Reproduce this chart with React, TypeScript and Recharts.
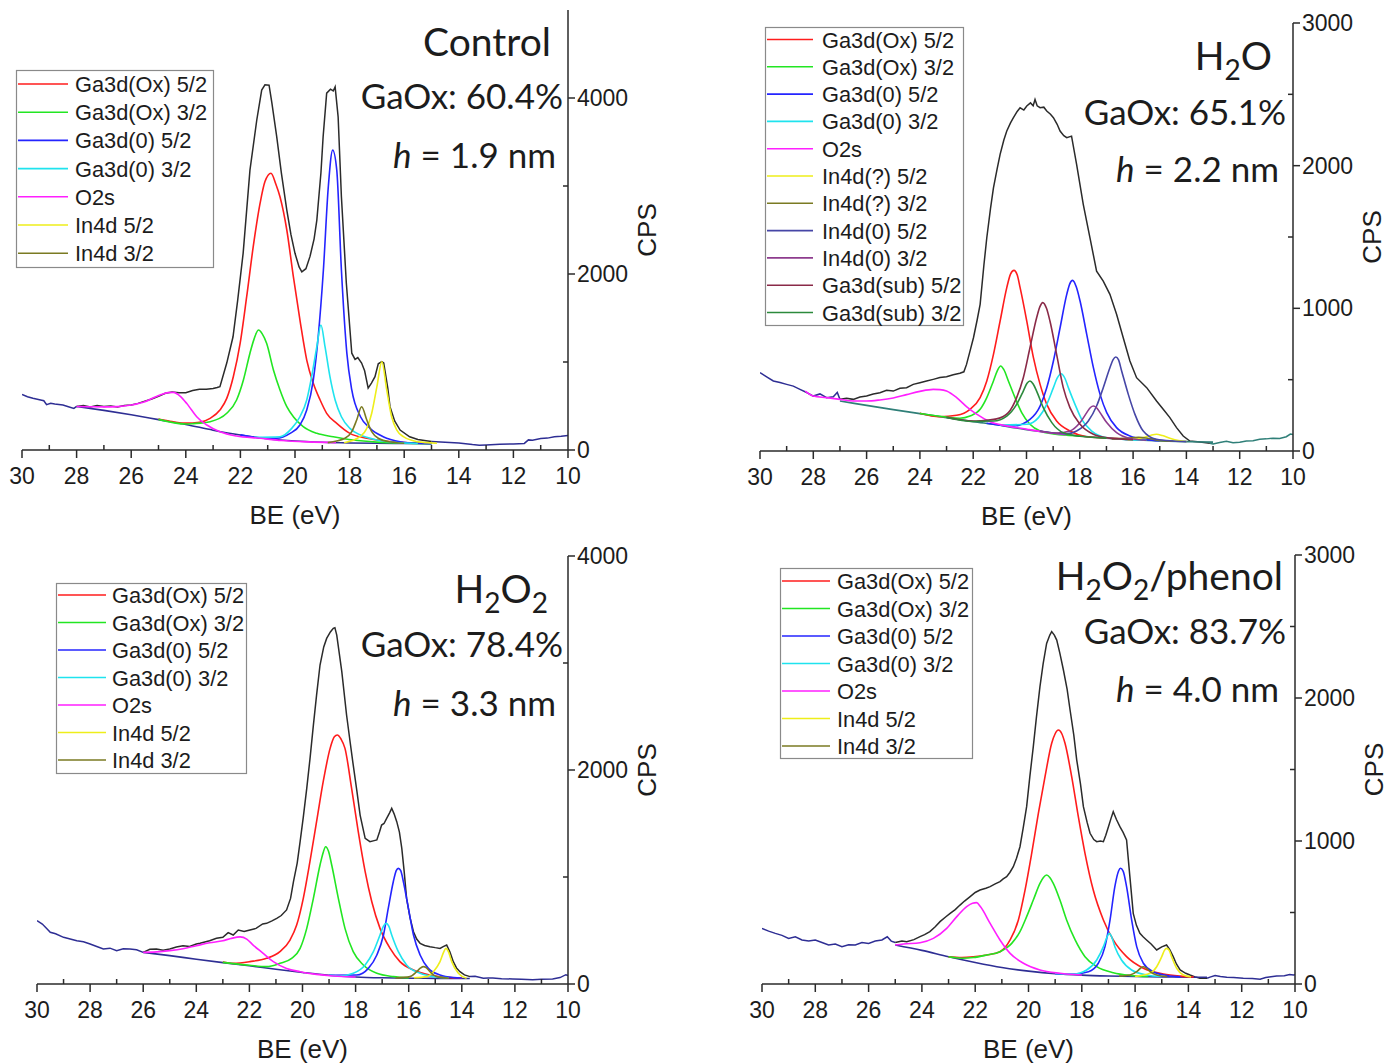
import React from "react";
import { LineChart, Line, XAxis, YAxis } from "recharts";

type Pt = [number, number];

const INK = "#1c1c1c";
const AXIS = "#2a2a2a";
const SANS = "'Liberation Sans', Arial, sans-serif";
const CAL = "Lato, Carlito, sans-serif";

// component colours
const RED = "#ff1c1c";
const GREEN = "#22e622";
const BLUE = "#2424ff";
const CYAN = "#1fe3ee";
const MAGENTA = "#ff1fff";
const YELLOW = "#eeee1a";
const OLIVE = "#7a7a22";
const SLATE = "#4646a6";
const PURPLE = "#8e3c8e";
const MAROON = "#8a2a48";
const DKGREEN = "#2c8a3c";
const NAVY = "#2e2e94";
const TEAL = "#2f7f78";
const SPEC = "#2b2b2b";

const beTicks = [30, 29, 28, 27, 26, 25, 24, 23, 22, 21, 20, 19, 18, 17, 16, 15, 14, 13, 12, 11, 10];

const stdNames = ["Ga3d(Ox) 5/2", "Ga3d(Ox) 3/2", "Ga3d(0) 5/2", "Ga3d(0) 3/2", "O2s", "In4d 5/2", "In4d 3/2"];
const stdColors = [RED, GREEN, BLUE, CYAN, MAGENTA, YELLOW, OLIVE];
const h2oNames = [
  "Ga3d(Ox) 5/2", "Ga3d(Ox) 3/2", "Ga3d(0) 5/2", "Ga3d(0) 3/2", "O2s",
  "In4d(?) 5/2", "In4d(?) 3/2", "In4d(0) 5/2", "In4d(0) 3/2", "Ga3d(sub) 5/2", "Ga3d(sub) 3/2",
];
const h2oColors = [RED, GREEN, BLUE, CYAN, MAGENTA, YELLOW, OLIVE, SLATE, PURPLE, MAROON, DKGREEN];

// ---------- Control ----------
const ctrlSpecL: Pt[] = [[30, 632], [29.8, 605], [29.6, 587], [29.4, 575], [29.2, 560], [29.1, 515], [28.95, 530], [28.8, 522], [28.5, 511], [28.3, 492], [28.1, 473], [28, 495]];
const ctrlSpec: Pt[] = [
  [28, 495], [27.75, 505], [27.5, 490], [27.25, 505], [27, 495], [26.75, 500], [26.5, 490], [26.25, 505], [26, 511],
  [25.75, 530], [25.5, 555], [25.25, 580], [25, 610], [24.75, 645], [24.5, 660], [24.25, 650], [24, 650], [23.75, 675],
  [23.5, 690], [23.25, 690], [23, 700], [22.85, 710], [22.75, 720], [22.5, 988], [22.27, 1287], [22.1, 1700], [21.9, 2235],
  [21.65, 3180], [21.4, 3750], [21.22, 4090], [21.1, 4150], [20.95, 4145], [20.85, 3950], [20.67, 3560], [20.5, 3150],
  [20.3, 2727], [20.15, 2450], [20, 2235], [19.85, 2080], [19.75, 2025], [19.6, 2060], [19.45, 2200], [19.3, 2400],
  [19.2, 2613], [19.05, 3150], [18.97, 3560], [18.84, 4055], [18.7, 4100], [18.6, 4080], [18.53, 4127], [18.42, 3786],
  [18.3, 2877], [18.12, 1897], [17.92, 1100], [17.8, 1030], [17.7, 1050], [17.56, 988], [17.45, 900], [17.32, 704],
  [17.2, 760], [17.07, 833], [16.95, 980], [16.82, 1003], [16.75, 990], [16.6, 700], [16.52, 492], [16.35, 330],
  [16.15, 227], [15.8, 150], [15.5, 120], [15.2, 105], [15, 96],
];
const ctrlSpecR: Pt[] = [[15, 96], [14.5, 88], [14, 80], [13.5, 62], [13.25, 55], [13, 58], [12.5, 65], [12, 68], [11.6, 75], [11.45, 115], [11.3, 110], [11, 130], [10.75, 135], [10.5, 150], [10.25, 155], [10, 165]];
const ctrlBg: Pt[] = [[28, 495], [27, 450], [26, 400], [25, 345], [24, 290], [23, 225], [22, 170], [21, 128], [20, 102], [19, 88], [18, 80], [17, 76], [16, 74], [15, 72]];
const ctrlOx52: Pt[] = [[25, 352], [24.5, 322], [24, 305], [23.5, 315], [23.11, 360], [22.75, 454], [22.5, 587], [22.26, 833], [22.01, 1212], [21.77, 1742], [21.53, 2310], [21.28, 2802], [21.1, 3050], [20.88, 3145], [20.7, 3020], [20.55, 2877], [20.3, 2500], [20.06, 1969], [19.8, 1439], [19.57, 1022], [19.33, 758], [19.08, 568], [18.84, 417], [18.47, 303], [17.99, 189], [17.37, 133], [16.8, 105], [16, 86], [15, 76]];
const ctrlOx32: Pt[] = [[25, 348], [24, 295], [23.72, 300], [23.11, 322], [22.5, 417], [22.14, 568], [21.89, 795], [21.65, 1100], [21.5, 1260], [21.34, 1363], [21.2, 1320], [21.04, 1212], [20.79, 909], [20.55, 682], [20.3, 492], [20.06, 378], [19.7, 265], [19.2, 189], [18.6, 151], [17.87, 114], [17, 90], [16, 78], [15, 73]];
const ctrlM52: Pt[] = [[22, 172], [21, 132], [20.67, 133], [20.18, 189], [19.82, 284], [19.57, 454], [19.33, 795], [19.15, 1287], [18.96, 2045], [18.78, 2991], [18.62, 3408], [18.47, 3180], [18.3, 2045], [18.1, 1098], [17.92, 682], [17.6, 378], [17.25, 246], [16.77, 151], [16.15, 94], [15.5, 76], [15, 73]];
const ctrlM32: Pt[] = [[21.5, 145], [20.55, 151], [20.12, 246], [19.82, 378], [19.57, 568], [19.39, 833], [19.2, 1174], [19.05, 1420], [18.9, 1174], [18.72, 833], [18.53, 568], [18.3, 378], [17.99, 246], [17.6, 170], [17, 114], [16.3, 85], [15.5, 74]];
const ctrlO2s: Pt[] = [[28, 495], [27.5, 492], [27, 490], [26.5, 493], [26, 511], [25.5, 548], [25.2, 590], [24.9, 630], [24.65, 652], [24.46, 655], [24.2, 610], [23.97, 530], [23.8, 460], [23.6, 378], [23.23, 284], [22.75, 208], [22.14, 159], [21.28, 133], [20.5, 108], [19.5, 92], [18.5, 84]];
const ctrlIn52: Pt[] = [[18.2, 82], [17.62, 151], [17.37, 246], [17.19, 417], [17, 720], [16.82, 1003], [16.64, 682], [16.46, 378], [16.27, 227], [16.03, 151], [15.67, 105], [15.2, 84], [14.8, 76]];
const ctrlIn32: Pt[] = [[18.8, 84], [18.17, 133], [17.92, 208], [17.74, 341], [17.56, 492], [17.37, 341], [17.19, 208], [16.95, 133], [16.5, 90], [16, 77]];

// ---------- H2O ----------
const h2oSpecL: Pt[] = [[30, 549], [29.75, 520], [29.5, 491], [29.25, 480], [29, 467], [28.75, 455], [28.5, 432], [28.25, 410], [28, 385], [27.75, 400], [27.5, 374], [27.25, 380], [27.1, 410], [27, 362]];
const h2oSpec: Pt[] = [
  [27, 362], [26.75, 370], [26.5, 362], [26.25, 378], [26, 385], [25.75, 400], [25.5, 409], [25.25, 425], [25, 420],
  [24.75, 440], [24.5, 444], [24.25, 467], [24, 479], [23.75, 490], [23.5, 502], [23.25, 515], [23, 520], [22.75, 535],
  [22.5, 545], [22.35, 555], [22.25, 607], [22.12, 700], [21.99, 794], [21.85, 920], [21.74, 1028], [21.6, 1300],
  [21.49, 1495], [21.35, 1700], [21.24, 1845], [21.1, 1980], [20.99, 2079], [20.85, 2180], [20.74, 2243], [20.6, 2300],
  [20.49, 2336], [20.35, 2380], [20.24, 2406], [20.1, 2390], [19.99, 2418], [19.85, 2440], [19.75, 2420], [19.68, 2464],
  [19.6, 2420], [19.49, 2406], [19.35, 2410], [19.24, 2383], [19.1, 2360], [18.99, 2336], [18.85, 2290], [18.74, 2243],
  [18.6, 2210], [18.49, 2196], [18.31, 2207], [18.12, 2009], [17.87, 1729], [17.62, 1495], [17.37, 1261], [17.12, 1191],
  [16.87, 1098], [16.62, 958], [16.37, 794], [16.12, 631], [15.87, 514], [15.49, 444], [15.12, 350], [14.87, 292],
  [14.62, 234], [14.37, 164], [14.12, 105], [13.87, 70], [13.49, 63], [13.12, 55],
];
const h2oSpecR: Pt[] = [[13.12, 55], [13, 50], [12.75, 60], [12.5, 68], [12.25, 58], [12, 62], [11.75, 70], [11.5, 72], [11.25, 83], [11, 85], [10.75, 90], [10.5, 88], [10.25, 100], [10.1, 119], [10, 115]];
const h2oBg: Pt[] = [[27, 350], [26, 320], [25, 290], [24, 262], [23, 234], [22, 206], [21, 180], [20.5, 164], [20, 150], [19, 126], [18, 105], [17, 90], [16, 79], [15, 71], [14, 66], [13, 62]];
const h2oOx52: Pt[] = [[24, 265], [23.25, 240], [22.62, 250], [22.12, 292], [21.74, 374], [21.49, 491], [21.24, 677], [20.99, 911], [20.74, 1145], [20.6, 1240], [20.47, 1266], [20.35, 1235], [20.24, 1145], [19.99, 911], [19.74, 654], [19.49, 467], [19.24, 327], [18.87, 210], [18.37, 140], [17.74, 100], [17, 91], [16, 79]];
const h2oOx32: Pt[] = [[24, 263], [23, 238], [22.5, 230], [22.12, 245], [21.74, 292], [21.49, 374], [21.24, 491], [21.1, 560], [20.97, 596], [20.85, 570], [20.68, 491], [20.43, 374], [20.18, 269], [19.87, 187], [19.49, 140], [18.99, 120], [18.5, 110], [18, 106]];
const h2oM52: Pt[] = [[21.5, 195], [20.49, 175], [19.87, 222], [19.49, 315], [19.24, 444], [18.99, 631], [18.74, 864], [18.49, 1098], [18.38, 1170], [18.27, 1196], [18.13, 1150], [17.99, 1051], [17.74, 818], [17.49, 584], [17.24, 397], [16.99, 269], [16.62, 164], [16.12, 105], [15.5, 80], [15, 72]];
const h2oM32: Pt[] = [[21, 182], [19.99, 187], [19.55, 234], [19.24, 327], [18.99, 444], [18.85, 510], [18.7, 542], [18.56, 510], [18.43, 444], [18.18, 327], [17.93, 222], [17.55, 140], [16.99, 93], [16.2, 80], [15.5, 75]];
const h2oO2s: Pt[] = [[28.3, 420], [28, 385], [27.5, 374], [27, 362], [26.5, 350], [26, 350], [25.5, 358], [25, 372], [24.5, 395], [24, 418], [23.5, 432], [23.25, 430], [23, 420], [22.62, 374], [22.24, 310], [21.87, 258], [21.37, 205], [20.74, 176], [20, 153], [19.2, 130], [18.5, 114]];
const h2oInQ52: Pt[] = [[16.2, 80], [15.8, 86], [15.5, 100], [15.3, 112], [15.12, 117], [14.9, 108], [14.62, 90], [14.3, 74], [14, 67]];
const h2oInQ32: Pt[] = [[16.8, 85], [16.2, 90], [15.8, 96], [15.4, 88], [15, 74], [14.5, 68]];
const h2oIn052: Pt[] = [[19.5, 140], [18.5, 120], [18.12, 140], [17.68, 210], [17.37, 315], [17.12, 444], [16.87, 584], [16.75, 640], [16.65, 659], [16.55, 640], [16.43, 561], [16.18, 397], [15.93, 257], [15.62, 140], [15.12, 82], [14.5, 70], [14, 66]];
const h2oIn032: Pt[] = [[19.5, 138], [18.87, 125], [18.37, 140], [17.99, 199], [17.74, 269], [17.6, 305], [17.49, 315], [17.38, 305], [17.24, 269], [16.99, 199], [16.62, 128], [16.12, 88], [15.5, 75]];
const h2oSub52: Pt[] = [[23, 236], [22, 210], [21.74, 212], [21.12, 225], [20.68, 269], [20.37, 374], [20.12, 514], [19.87, 724], [19.62, 934], [19.5, 1010], [19.39, 1040], [19.25, 1000], [19.12, 911], [18.87, 677], [18.62, 444], [18.37, 304], [17.99, 187], [17.49, 117], [16.87, 90], [16, 80]];
const h2oSub32: Pt[] = [[23, 235], [22, 207], [21.24, 210], [20.74, 245], [20.37, 327], [20.12, 420], [19.98, 475], [19.87, 491], [19.75, 470], [19.62, 420], [19.37, 304], [19.05, 199], [18.62, 128], [17.99, 103], [17, 90]];

// ---------- H2O2 ----------
const hpSpecL: Pt[] = [[30, 592], [29.8, 560], [29.6, 510], [29.5, 483], [29.3, 470], [29, 436], [28.75, 420], [28.5, 405], [28.25, 395], [28, 374], [27.75, 350], [27.5, 327], [27.25, 335], [27, 312], [26.75, 330], [26.5, 327], [26.25, 320], [26, 296]];
const hpSpec: Pt[] = [
  [26, 296], [25.75, 325], [25.5, 327], [25.25, 315], [25, 327], [24.75, 345], [24.5, 358], [24.25, 350], [24, 374],
  [23.86, 380], [23.5, 405], [23.24, 427], [23, 436], [22.8, 480], [22.61, 458], [22.42, 505], [22.2, 490], [21.98, 505],
  [21.75, 520], [21.5, 561], [21.35, 567], [21.15, 590], [20.97, 614], [20.8, 640], [20.6, 692], [20.45, 800], [20.34, 956],
  [20.2, 1130], [20.09, 1330], [19.97, 1560], [19.84, 1829], [19.72, 2100], [19.59, 2420], [19.47, 2700], [19.34, 2981],
  [19.2, 3150], [19.09, 3230], [18.95, 3290], [18.84, 3324], [18.78, 3330], [18.71, 3261], [18.62, 3100], [18.52, 2919],
  [18.34, 2514], [18.2, 2250], [18.09, 2047], [17.95, 1800], [17.83, 1579], [17.64, 1361], [17.46, 1330], [17.3, 1340],
  [17.2, 1346], [17.1, 1420], [17.02, 1486], [16.93, 1500], [16.83, 1548], [16.72, 1600], [16.64, 1642], [16.55, 1590],
  [16.45, 1517], [16.35, 1420], [16.26, 1268], [16.17, 1050], [16.08, 800], [15.95, 620], [15.82, 489], [15.7, 420],
  [15.57, 380], [15.4, 360], [15.2, 349], [15, 340], [14.82, 333], [14.7, 350], [14.57, 364], [14.45, 300], [14.32, 209],
  [14.2, 150], [14.07, 115], [13.9, 85], [13.69, 69],
];
const hpSpecR: Pt[] = [[13.69, 69], [13.5, 72], [13.19, 53], [13, 55], [12.83, 56], [12.5, 50], [12.08, 47], [11.75, 45], [11.33, 40], [11, 45], [10.58, 47], [10.3, 60], [10.08, 87], [10, 80]];
const hpBg: Pt[] = [[26, 296], [25, 265], [24, 232], [23, 200], [22, 170], [21, 138], [20, 108], [19, 82], [18, 66], [17, 58], [16, 54], [15, 53], [14, 52], [13.7, 52]];
const hpOx52: Pt[] = [[23, 205], [22.61, 193], [21.98, 209], [21.35, 240], [20.85, 302], [20.47, 411], [20.22, 551], [19.97, 801], [19.72, 1143], [19.47, 1517], [19.22, 1891], [18.96, 2202], [18.8, 2310], [18.69, 2327], [18.55, 2290], [18.4, 2202], [18.15, 1829], [17.9, 1424], [17.64, 1050], [17.39, 769], [17.08, 520], [16.7, 333], [16.33, 209], [15.82, 131], [15.2, 84], [14.5, 62], [14, 55]];
const hpOx32: Pt[] = [[23, 202], [22, 175], [21.35, 162], [20.85, 193], [20.41, 240], [20.09, 333], [19.84, 520], [19.59, 801], [19.34, 1112], [19.22, 1230], [19.13, 1283], [19.02, 1240], [18.9, 1112], [18.65, 801], [18.4, 520], [18.09, 302], [17.71, 178], [17.2, 100], [16.58, 69], [16, 57]];
const hpM52: Pt[] = [[19, 82], [17.96, 84], [17.52, 146], [17.2, 271], [16.95, 458], [16.77, 707], [16.58, 956], [16.47, 1060], [16.39, 1081], [16.3, 1060], [16.2, 956], [16.01, 707], [15.82, 458], [15.57, 271], [15.26, 146], [14.82, 84], [14.3, 60], [14, 56]];
const hpM32: Pt[] = [[19, 82], [18.59, 75], [18.09, 100], [17.64, 178], [17.33, 302], [17.08, 458], [16.95, 540], [16.85, 567], [16.75, 540], [16.64, 458], [16.39, 302], [16.08, 178], [15.57, 100], [15.07, 69], [14.5, 58]];
const hpO2s: Pt[] = [[26, 296], [25.5, 300], [25, 312], [24.5, 330], [24, 358], [23.5, 385], [23, 405], [22.7, 425], [22.35, 440], [22.1, 420], [21.86, 364], [21.48, 287], [21.1, 209], [20.6, 146], [20.09, 115], [19.47, 90], [18.84, 75], [18, 66]];
const hpIn52: Pt[] = [[15.8, 58], [15.32, 69], [15.07, 115], [14.82, 209], [14.68, 300], [14.6, 333], [14.5, 300], [14.38, 209], [14.13, 100], [13.82, 53]];
const hpIn32: Pt[] = [[16.5, 56], [15.95, 69], [15.7, 115], [15.55, 150], [15.45, 162], [15.33, 150], [15.2, 115], [14.95, 69], [14.5, 55]];

// ---------- H2O2/phenol ----------
const phSpecL: Pt[] = [[30, 389], [29.75, 370], [29.5, 354], [29.25, 340], [29, 319], [28.75, 330], [28.5, 308], [28.25, 300], [28, 308], [27.75, 290], [27.5, 273], [27.25, 280], [27, 261], [26.75, 275], [26.5, 273], [26.25, 290], [26, 284], [25.75, 300], [25.5, 308], [25.3, 330], [25.15, 300], [25, 290]];
const phSpec: Pt[] = [
  [25, 290], [24.75, 300], [24.57, 296], [24.3, 310], [24.07, 331], [23.9, 345], [23.7, 366], [23.5, 400], [23.32, 436],
  [23.1, 470], [22.94, 494], [22.75, 520], [22.57, 552], [22.4, 580], [22.19, 611], [22, 640], [21.82, 657], [21.6, 670],
  [21.44, 681], [21.25, 700], [21.07, 716], [20.95, 735], [20.82, 751], [20.7, 780], [20.57, 820], [20.45, 880], [20.32, 960],
  [20.2, 1090], [20.07, 1240], [19.95, 1450], [19.82, 1660], [19.7, 1870], [19.57, 2079], [19.45, 2240], [19.32, 2382],
  [19.2, 2440], [19.13, 2464], [19.03, 2440], [18.94, 2405], [18.82, 2310], [18.69, 2196], [18.55, 2060], [18.44, 1916],
  [18.3, 1740], [18.19, 1566], [18.05, 1400], [17.94, 1240], [17.8, 1130], [17.69, 1054], [17.55, 1010], [17.44, 995],
  [17.3, 1000], [17.19, 995], [17.1, 1040], [17, 1100], [16.9, 1160], [16.82, 1205], [16.7, 1150], [16.57, 1100],
  [16.45, 1060], [16.32, 1007], [16.2, 760], [16.07, 494], [15.95, 410], [15.82, 354], [15.7, 330], [15.57, 308],
  [15.4, 280], [15.19, 238], [15, 260], [14.82, 273], [14.7, 240], [14.57, 191], [14.45, 140], [14.31, 98], [14.1, 75],
  [13.94, 63], [13.75, 50], [13.57, 40], [13.3, 40],
];
const phSpecR: Pt[] = [[13.3, 40], [13.19, 48], [13, 60], [12.8, 52], [12.56, 47], [12.3, 45], [11.94, 40], [11.6, 38], [11.31, 33], [11.1, 45], [10.9, 50], [10.69, 56], [10.4, 58], [10.2, 66], [10.06, 63], [10, 65]];
const phBg: Pt[] = [[25, 273], [24, 235], [23, 190], [22, 150], [21, 115], [20, 90], [19, 72], [18, 62], [17, 56], [16, 52], [15, 50], [14, 48], [13.3, 47]];
const phOx52: Pt[] = [[23, 190], [22.5, 185], [22.07, 190], [21.57, 203], [21.07, 226], [20.69, 308], [20.38, 448], [20.13, 657], [19.88, 914], [19.63, 1193], [19.38, 1450], [19.13, 1683], [19, 1750], [18.88, 1776], [18.75, 1750], [18.63, 1683], [18.38, 1450], [18.13, 1170], [17.88, 914], [17.57, 657], [17.19, 448], [16.82, 308], [16.32, 191], [15.69, 110], [14.94, 70], [14.3, 55], [13.8, 49]];
const phOx32: Pt[] = [[23, 190], [22.5, 180], [22.07, 185], [21.57, 203], [21.07, 226], [20.63, 284], [20.32, 366], [20.07, 471], [19.82, 587], [19.57, 704], [19.44, 745], [19.32, 762], [19.2, 745], [19.07, 704], [18.82, 587], [18.57, 448], [18.25, 308], [17.88, 191], [17.44, 121], [16.82, 79], [16.2, 60], [15.5, 52]];
const phM52: Pt[] = [[19, 72], [18.32, 70], [17.75, 86], [17.38, 145], [17.13, 261], [16.94, 448], [16.76, 681], [16.62, 790], [16.55, 809], [16.45, 790], [16.32, 681], [16.13, 448], [15.94, 261], [15.69, 145], [15.32, 86], [14.8, 60], [14.3, 50]];
const phM32: Pt[] = [[19, 73], [18.32, 70], [17.82, 98], [17.44, 168], [17.19, 261], [17.05, 330], [16.97, 354], [16.88, 330], [16.76, 261], [16.51, 168], [16.13, 98], [15.57, 63], [15, 52]];
const phO2s: Pt[] = [[25, 273], [24.69, 280], [24.07, 289], [23.57, 319], [23.07, 389], [22.69, 471], [22.32, 541], [22.1, 565], [21.95, 569], [21.8, 540], [21.44, 424], [21.07, 308], [20.69, 214], [20.19, 145], [19.57, 98], [18.82, 75], [18, 63]];
const phIn52: Pt[] = [[16, 53], [15.44, 75], [15.19, 121], [15, 191], [14.9, 235], [14.82, 249], [14.72, 235], [14.63, 191], [14.44, 110], [14.19, 63], [13.9, 50]];
const phIn32: Pt[] = [[16.6, 55], [16.19, 63], [15.94, 86], [15.8, 110], [15.69, 121], [15.57, 110], [15.44, 86], [15.19, 63], [14.8, 52]];

interface Trace {
  pts: Pt[];
  color: string;
  width: number;
  smooth: boolean;
}

interface LegendBox {
  x: number;
  y: number;
  w: number;
  h: number;
  row0: number;
  step: number;
  line0: number;
  line1: number;
  textX: number;
  names: string[];
  colors: string[];
}

interface PanelDef {
  left: number;
  right: number;
  top: number;
  bottom: number;
  yMax: number;
  yTicks: number[];
  yMajor: number;
  traces: Trace[];
  legend: LegendBox;
}

const raw = (pts: Pt[], color: string): Trace => ({ pts, color, width: 1.5, smooth: false });
const fit = (pts: Pt[], color: string): Trace => ({ pts, color, width: 1.6, smooth: true });

function buildTraces(edgeL: Pt[], spec: Pt[], edgeR: Pt[], edgeColor: string, bg: Pt[], bgColor: string, comps: Pt[][], colors: string[]): Trace[] {
  return [
    raw(edgeL, NAVY),
    raw(edgeR, edgeColor),
    raw(spec, SPEC),
    fit(bg, bgColor),
    ...comps.map((c, i) => fit(c, colors[i])),
  ];
}

const panels: PanelDef[] = [
  {
    left: 22, right: 568, top: 10, bottom: 450, yMax: 5000, yTicks: [0, 1000, 2000, 3000, 4000], yMajor: 2000,
    traces: buildTraces(ctrlSpecL, ctrlSpec, ctrlSpecR, NAVY, ctrlBg, NAVY,
      [ctrlOx52, ctrlOx32, ctrlM52, ctrlM32, ctrlO2s, ctrlIn52, ctrlIn32], stdColors),
    legend: { x: 16, y: 70, w: 197, h: 197, row0: 84, step: 28.2, line0: 18, line1: 68, textX: 75, names: stdNames, colors: stdColors },
  },
  {
    left: 760, right: 1293, top: 23, bottom: 451, yMax: 3000, yTicks: [0, 500, 1000, 1500, 2000, 2500, 3000], yMajor: 1000,
    traces: buildTraces(h2oSpecL, h2oSpec, h2oSpecR, TEAL, h2oBg, TEAL,
      [h2oOx52, h2oOx32, h2oM52, h2oM32, h2oO2s, h2oInQ52, h2oInQ32, h2oIn052, h2oIn032, h2oSub52, h2oSub32], h2oColors),
    legend: { x: 765, y: 27, w: 198, h: 298, row0: 39.5, step: 27.3, line0: 767, line1: 813, textX: 822, names: h2oNames, colors: h2oColors },
  },
  {
    left: 37, right: 568, top: 556, bottom: 984, yMax: 4000, yTicks: [0, 1000, 2000, 3000, 4000], yMajor: 2000,
    traces: buildTraces(hpSpecL, hpSpec, hpSpecR, NAVY, hpBg, NAVY,
      [hpOx52, hpOx32, hpM52, hpM32, hpO2s, hpIn52, hpIn32], stdColors),
    legend: { x: 56, y: 583, w: 190, h: 190, row0: 595, step: 27.5, line0: 58, line1: 106, textX: 112, names: stdNames, colors: stdColors },
  },
  {
    left: 762, right: 1295, top: 555, bottom: 984, yMax: 3000, yTicks: [0, 500, 1000, 1500, 2000, 2500, 3000], yMajor: 1000,
    traces: buildTraces(phSpecL, phSpec, phSpecR, NAVY, phBg, NAVY,
      [phOx52, phOx32, phM52, phM32, phO2s, phIn52, phIn32], stdColors),
    legend: { x: 780, y: 568, w: 192, h: 190, row0: 581, step: 27.5, line0: 782, line1: 830, textX: 837, names: stdNames, colors: stdColors },
  },
];

const PAD_L = 16;
const PAD_T = 12;
const AXIS_W = 80;
const AXIS_H = 44;
const TICK_FS = 23;
const LEGEND_FS = 21.8;

function XTick(props: any) {
  const { x, y, payload } = props;
  const v = payload.value as number;
  const major = v % 2 === 0;
  return (
    <g>
      <line x1={x} x2={x} y1={y} y2={major ? y + 8 : y - 5} stroke={AXIS} strokeWidth={1.5} />
      {major && (
        <text x={x} y={y + 33.5} textAnchor="middle" fontSize={TICK_FS} fontFamily={SANS} fill={INK}>
          {v}
        </text>
      )}
    </g>
  );
}

function makeYTick(majorStep: number) {
  return function YTick(props: any) {
    const { x, y, payload } = props;
    const v = payload.value as number;
    const major = v % majorStep === 0;
    return (
      <g>
        <line x1={x} x2={major ? x + 7 : x - 5} y1={y} y2={y} stroke={AXIS} strokeWidth={1.5} />
        {major && (
          <text x={x + 9} y={y + 8} textAnchor="start" fontSize={TICK_FS} fontFamily={SANS} fill={INK}>
            {v}
          </text>
        )}
      </g>
    );
  };
}

function Panel({ p }: { p: PanelDef }) {
  const w = p.right - p.left + PAD_L + AXIS_W;
  const h = p.bottom - p.top + PAD_T + AXIS_H;
  return (
    <div style={{ position: "absolute", left: p.left - PAD_L, top: p.top - PAD_T }}>
      <LineChart width={w} height={h} margin={{ top: PAD_T, left: PAD_L, right: 0, bottom: 0 }}>
        <XAxis
          type="number"
          dataKey="x"
          domain={[10, 30]}
          reversed
          allowDataOverflow
          ticks={beTicks}
          interval={0}
          height={AXIS_H}
          tickSize={0}
          tickMargin={0}
          tickLine={false}
          axisLine={{ stroke: AXIS, strokeWidth: 1.5 }}
          tick={XTick}
        />
        <YAxis
          orientation="right"
          type="number"
          dataKey="y"
          domain={[0, p.yMax]}
          allowDataOverflow
          ticks={p.yTicks}
          interval={0}
          width={AXIS_W}
          tickSize={0}
          tickMargin={0}
          tickLine={false}
          axisLine={{ stroke: AXIS, strokeWidth: 1.5 }}
          tick={makeYTick(p.yMajor)}
        />
        {p.traces.map((t, i) => (
          <Line
            key={i}
            data={t.pts.map(([x, y]) => ({ x, y }))}
            dataKey="y"
            type={t.smooth ? "monotone" : "linear"}
            stroke={t.color}
            strokeWidth={t.width}
            dot={false}
            activeDot={false}
            isAnimationActive={false}
          />
        ))}
      </LineChart>
    </div>
  );
}

function LegendView({ l }: { l: LegendBox }) {
  return (
    <g>
      <rect x={l.x + 0.5} y={l.y + 0.5} width={l.w} height={l.h} fill="#fff" stroke="#8a8a8a" strokeWidth={1.2} />
      {l.names.map((n, i) => {
        const cy = l.row0 + i * l.step;
        return (
          <g key={n}>
            <line x1={l.line0} x2={l.line1} y1={cy} y2={cy} stroke={l.colors[i]} strokeWidth={1.6} />
            <text x={l.textX} y={cy + 8} fontSize={LEGEND_FS} fontFamily={SANS} fill={INK}>
              {n}
            </text>
          </g>
        );
      })}
    </g>
  );
}

function AxisTitles({ p }: { p: PanelDef }) {
  const cx = (p.left + p.right) / 2;
  const cy = (p.top + p.bottom) / 2;
  const yx = p.right + 79;
  return (
    <g fontFamily={SANS} fontSize={26} fill={INK}>
      <text x={cx} y={p.bottom + 74} textAnchor="middle">BE (eV)</text>
      <text x={yx} y={cy + 9} textAnchor="middle" transform={`rotate(-90 ${yx} ${cy})`}>CPS</text>
    </g>
  );
}

function Note({ x, y, size, children }: { x: number; y: number; size: number; children: React.ReactNode }) {
  return (
    <text x={x} y={y + size * 0.36} textAnchor="end" fontSize={size} fontFamily={CAL} fill={INK}>
      {children}
    </text>
  );
}

export default function App() {
  return (
    <div style={{ position: "absolute", left: 0, top: 0, width: 1390, height: 1063, background: "#fff", overflow: "hidden" }}>
      {panels.map((p, i) => (
        <Panel key={i} p={p} />
      ))}
      <svg width={1390} height={1063} style={{ position: "absolute", left: 0, top: 0, pointerEvents: "none" }}>
        {panels.map((p, i) => (
          <g key={i}>
            <AxisTitles p={p} />
            <LegendView l={p.legend} />
          </g>
        ))}

        <Note x={551} y={41.5} size={39}>Control</Note>
        <Note x={563} y={96} size={35}>GaOx: 60.4%</Note>
        <Note x={556} y={155} size={35}><tspan fontStyle="italic">h</tspan> = 1.9 nm</Note>

        <Note x={1272} y={56} size={39}>
          H<tspan fontSize={28} dy={10}>2</tspan><tspan dy={-10}>O</tspan>
        </Note>
        <Note x={1286} y={112} size={35}>GaOx: 65.1%</Note>
        <Note x={1279} y={169} size={35}><tspan fontStyle="italic">h</tspan> = 2.2 nm</Note>

        <Note x={548} y={589} size={39}>
          H<tspan fontSize={28} dy={10}>2</tspan><tspan dy={-10}>O</tspan><tspan fontSize={28} dy={10}>2</tspan>
        </Note>
        <Note x={563} y={644} size={35}>GaOx: 78.4%</Note>
        <Note x={556} y={703} size={35}><tspan fontStyle="italic">h</tspan> = 3.3 nm</Note>

        <Note x={1283} y={576} size={39}>
          H<tspan fontSize={28} dy={10}>2</tspan><tspan dy={-10}>O</tspan><tspan fontSize={28} dy={10}>2</tspan><tspan dy={-10}>/phenol</tspan>
        </Note>
        <Note x={1286} y={631} size={35}>GaOx: 83.7%</Note>
        <Note x={1279} y={689} size={35}><tspan fontStyle="italic">h</tspan> = 4.0 nm</Note>
      </svg>
    </div>
  );
}
